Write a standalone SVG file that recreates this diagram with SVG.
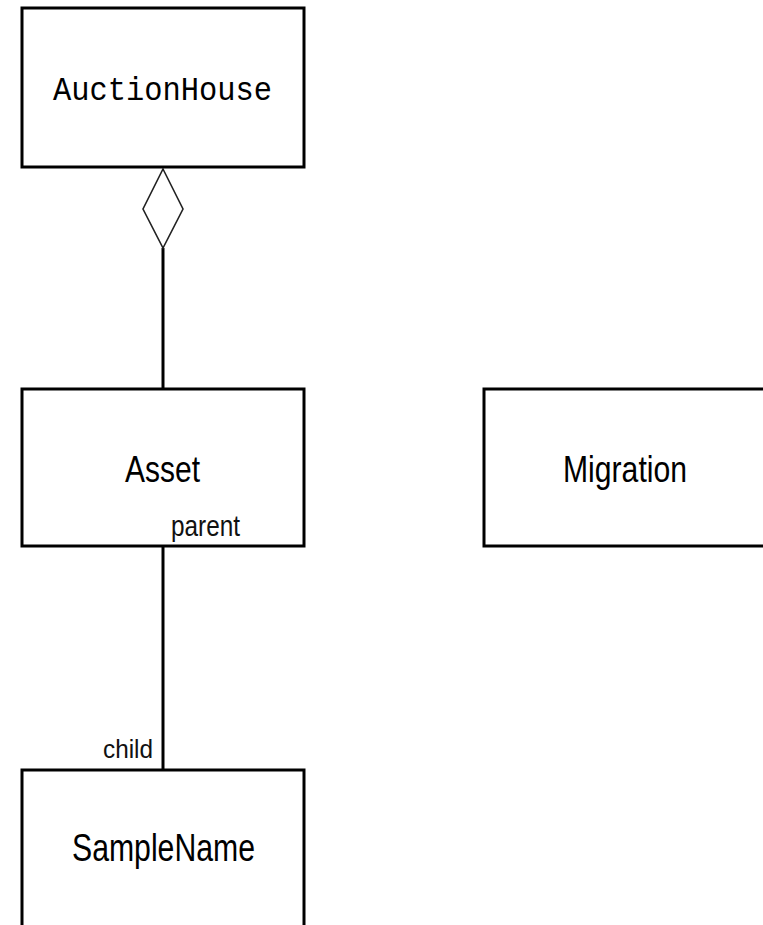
<svg xmlns="http://www.w3.org/2000/svg" width="763" height="925" viewBox="0 0 763 925">
  <style>
    .box { fill: #ffffff; stroke: #000000; stroke-width: 3; }
    .edge { fill: none; stroke: #000000; stroke-width: 3; }
    .agg { fill: #ffffff; stroke: #222222; stroke-width: 1.6; }
    .name { font-family: "Liberation Sans", Arial, sans-serif; fill: #000000; }
    .mono { font-family: "Liberation Mono", "Courier New", monospace; fill: #000000; }
    .role { font-family: "Liberation Sans", Arial, sans-serif; fill: #111111; }
  </style>
  <rect width="763" height="925" fill="#ffffff"/>

  <!-- connectors -->
  <g id="connectors">
    <line class="edge" x1="163" y1="248" x2="163" y2="389"/>
    <polygon class="agg" points="163,169 183,209 163,248 143,209"/>
    <line class="edge" x1="163" y1="546" x2="163" y2="770"/>
  </g>

  <!-- classes -->
  <g id="AuctionHouse">
    <rect class="box" x="22" y="8" width="282" height="159"/>
    <text class="mono" x="53" y="100" font-size="34" textLength="219" lengthAdjust="spacingAndGlyphs">AuctionHouse</text>
  </g>

  <g id="Asset">
    <rect class="box" x="22" y="389" width="282" height="157"/>
    <text class="name" x="125" y="482" font-size="37" textLength="75" lengthAdjust="spacingAndGlyphs">Asset</text>
  </g>

  <g id="Migration">
    <rect class="box" x="484" y="389" width="282" height="157"/>
    <text class="name" x="563" y="482" font-size="37" textLength="124" lengthAdjust="spacingAndGlyphs">Migration</text>
  </g>

  <g id="SampleName">
    <rect class="box" x="22" y="770" width="282" height="200"/>
    <text class="name" x="72" y="861" font-size="38" textLength="183" lengthAdjust="spacingAndGlyphs">SampleName</text>
  </g>

  <!-- association end roles, drawn over the boxes -->
  <g id="roles">
    <text class="role" x="171" y="536" font-size="29" textLength="69" lengthAdjust="spacingAndGlyphs">parent</text>
    <text class="role" x="103" y="758" font-size="25" textLength="50" lengthAdjust="spacingAndGlyphs">child</text>
  </g>
</svg>
